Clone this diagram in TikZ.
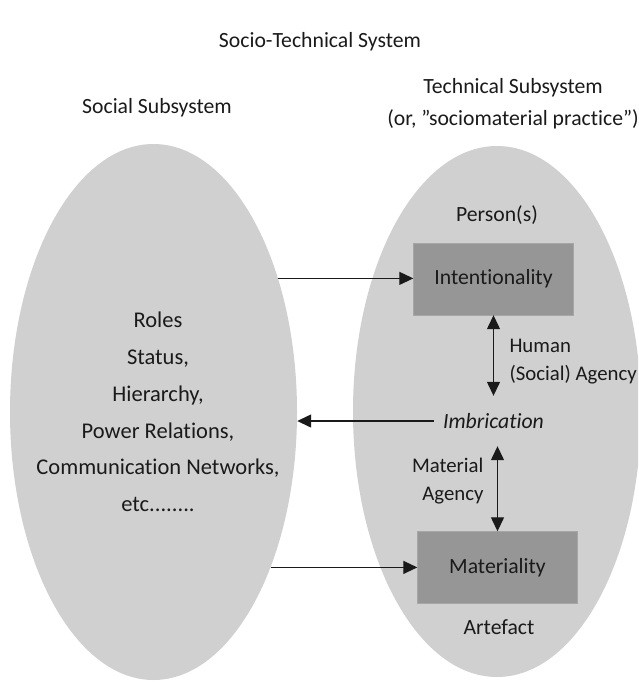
\documentclass[tikz,border=0pt]{standalone}
\usepackage{fontspec}
\setmainfont{Carlito}[Ligatures=NoCommon]
\usepackage{tikz}
\usetikzlibrary{shapes.geometric, arrows.meta, positioning}
\definecolor{ovalgray}{HTML}{D0D0D0}
\definecolor{boxgray}{HTML}{969696}
\definecolor{inkgray}{HTML}{1A1A1A}
\tikzset{
  >={Triangle[length=14pt,width=13pt]},
  every node/.style={text=inkgray, font=\fontsize{21.7}{26}\selectfont},
  subsystem/.style={ellipse, fill=ovalgray, draw=none, inner sep=0pt},
  agentbox/.style={rectangle, fill=boxgray, draw=boxgray!85!white, minimum width=160pt, minimum height=72pt},
  link/.style={->, draw=inkgray, line width=1.3pt},
  dbl/.style={<->, draw=inkgray, line width=1.3pt}
}

\begin{document}
\begin{tikzpicture}[x=1pt,y=-1pt]
    \useasboundingbox (0,0) rectangle (638,682);
    \clip (0,0) rectangle (638,682);

    % the two subsystems
    \node[subsystem, minimum width=287pt, minimum height=536pt] (Soc) at (153.5,412) {};
    \node[subsystem, minimum width=288pt, minimum height=531pt] (Tech) at (497,411.5) {};

    % headings
    \node (Title) at (320,42) {Socio-Technical System};
    \node (SocHead) at (157,108) {Social Subsystem};
    \node[align=center, font=\fontsize{21.7}{32}\selectfont] (TechHead) at (513,104)
      {Technical Subsystem\\(or, ”sociomaterial practice”)};

    % social side
    \node[align=center, font=\fontsize{22.5}{36.8}\selectfont] (SocList) at (158,412)
      {Roles\\Status,\\Hierarchy,\\Power Relations,\\Communication Networks,\\etc........};

    % technical side
    \node (Person) at (497,215) {Person(s)};
    \node[agentbox] (Intent) at (493.5,279) {Intentionality};
    \node[minimum height=50pt, inner xsep=9pt] (Imb) at (493.5,421) {\itshape Imbrication};
    \node[agentbox] (Mat) at (497.5,567.5) {Materiality};
    \node (Artefact) at (499,627) {Artefact};
    \node[align=left, anchor=west, font=\fontsize{20.8}{28}\selectfont] (HumAg) at (506,362)
      {Human\\(Social) Agency};
    \node[align=right, anchor=east, font=\fontsize{20.8}{28}\selectfont] (MatAg) at (487,481)
      {Material\\Agency};

    % arrows
    \draw[link] (Soc.47) -- (Soc.47 -| Intent.west);
    \draw[link] (Soc.-53) -- (Soc.-53 -| Mat.west);
    \draw[link] (Imb.west) -- (Imb.west -| Soc.east);
    \draw[dbl] (Intent.south) -- (Imb.north);
    \draw[dbl] (Imb.south -| Mat.north) -- (Mat.north);
\end{tikzpicture}
\end{document}
